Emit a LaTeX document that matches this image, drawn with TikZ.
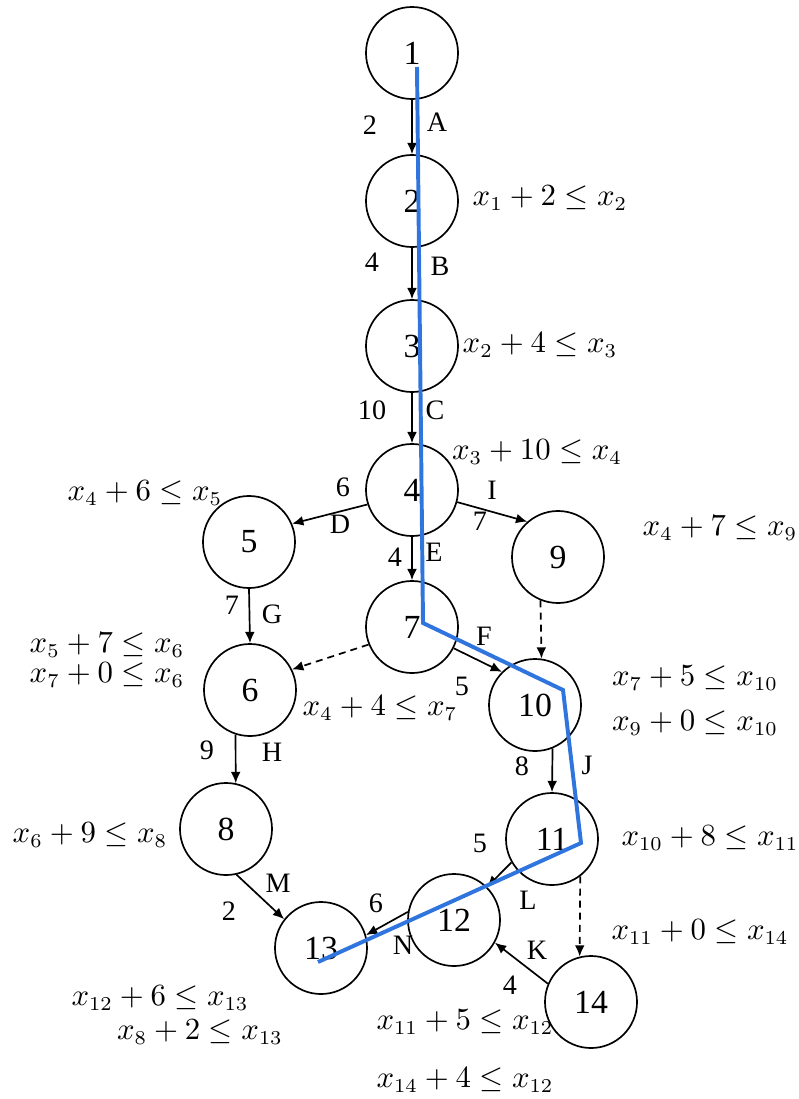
\documentclass[tikz,border=0pt]{standalone}
\usepackage{fontspec}
\setmainfont{Liberation Serif}
\usetikzlibrary{arrows.meta}

\begin{document}
\begin{tikzpicture}[x=0.0125cm, y=-0.0125cm,
    ndCircle/.style={circle, draw, line width=0.6pt, minimum size=1.15cm, inner sep=0pt, font=\large},
    ndArrow/.style={draw, line width=0.6pt, -{Latex[length=4pt, width=3.5pt]}},
    ndDummy/.style={ndArrow, dash pattern=on 2.5pt off 1.8pt},
    ndCritical/.style={draw={rgb,255:red,47;green,117;blue,221}, line width=1.4pt, line join=miter},
    ndLabel/.style={inner sep=0pt},
    ndCons/.style={inner sep=0pt, font=\fontsize{10.5}{12}\selectfont}]

    \useasboundingbox (0,0) rectangle (799,1099);

    % events
    \node[ndCircle] (ndNode1) at (412,53) {1};
    \node[ndCircle] (ndNode2) at (412,201) {2};
    \node[ndCircle] (ndNode3) at (412,346) {3};
    \node[ndCircle] (ndNode4) at (412,490) {4};
    \node[ndCircle] (ndNode5) at (249,542) {5};
    \node[ndCircle] (ndNode6) at (250,690) {6};
    \node[ndCircle] (ndNode7) at (412,627) {7};
    \node[ndCircle] (ndNode8) at (226,829) {8};
    \node[ndCircle] (ndNode9) at (558,557) {9};
    \node[ndCircle] (ndNode10) at (535,705) {10};
    \node[ndCircle] (ndNode11) at (552,839) {11};
    \node[ndCircle] (ndNode12) at (454,920) {12};
    \node[ndCircle] (ndNode13) at (321,948) {13};
    \node[ndCircle] (ndNode14) at (591,1002) {14};

    % activities
    \draw[ndArrow] (ndNode1.south) -- (ndNode2.north);
    \draw[ndArrow] (ndNode2.south) -- (ndNode3.north);
    \draw[ndArrow] (ndNode3.south) -- (ndNode4.north);
    \draw[ndArrow] (ndNode4.198) -- (ndNode5.23);
    \draw[ndArrow] (ndNode4.south) -- (ndNode7.north);
    \draw[ndArrow] (ndNode4.345) -- (ndNode9.131);
    \draw[ndArrow] (ndNode5.south) -- (ndNode6.north);
    \draw[ndDummy] (ndNode7.202) -- (ndNode6.26);
    \draw[ndArrow] (ndNode7.333) -- (ndNode10.135);
    \draw[ndDummy] (ndNode9.248) -- (ndNode10.82);
    \draw[ndArrow] (ndNode6.252) -- (ndNode8.78);
    \draw[ndArrow] (ndNode8.283) -- (ndNode13.142);
    \draw[ndArrow] (ndNode10.292) -- (ndNode11.north);
    \draw[ndArrow] (ndNode11.210) -- (ndNode12.45);
    \draw[ndDummy] (ndNode11.307) -- (ndNode14.104);
    \draw[ndArrow] (ndNode14.157) -- (ndNode12.331);
    \draw[ndArrow] (ndNode12.170) -- (ndNode13.16);

    % critical path
    \coordinate (cpStart) at (417,67);
    \coordinate (cpBend7) at (423,623);
    \coordinate (cpBend10) at (563,690);
    \coordinate (cpBend11) at (581,843);
    \coordinate (cpEnd) at (318,962);
    \draw[ndCritical] (cpStart) -- (cpBend7) -- (cpBend10) -- (cpBend11) -- (cpEnd);

    % durations and activity names
    \node[ndLabel] (ndDurA) at (370,125) {2};
    \node[ndLabel] (ndActA) at (437,122) {A};
    \node[ndLabel] (ndDurB) at (372,262) {4};
    \node[ndLabel] (ndActB) at (440,266) {B};
    \node[ndLabel] (ndDurC) at (372,410) {10};
    \node[ndLabel] (ndActC) at (435,410) {C};
    \node[ndLabel] (ndDurD) at (343,487) {6};
    \node[ndLabel] (ndActD) at (340,524) {D};
    \node[ndLabel] (ndDurE) at (395,557) {4};
    \node[ndLabel] (ndActE) at (434,552) {E};
    \node[ndLabel] (ndActI) at (492,490) {I};
    \node[ndLabel] (ndDurI) at (480,521) {7};
    \node[ndLabel] (ndDurG) at (232,605) {7};
    \node[ndLabel] (ndActG) at (272,614) {G};
    \node[ndLabel] (ndActF) at (484,636) {F};
    \node[ndLabel] (ndDurF) at (462,686) {5};
    \node[ndLabel] (ndDurH) at (207,750) {9};
    \node[ndLabel] (ndActH) at (272,752) {H};
    \node[ndLabel] (ndDurJ) at (522,766) {8};
    \node[ndLabel] (ndActJ) at (587,765) {J};
    \node[ndLabel] (ndActM) at (278,883) {M};
    \node[ndLabel] (ndDurM) at (229,911) {2};
    \node[ndLabel] (ndDurL) at (480,843) {5};
    \node[ndLabel] (ndActL) at (528,900) {L};
    \node[ndLabel] (ndDurN) at (376,903) {6};
    \node[ndLabel] (ndActN) at (403,945) {N};
    \node[ndLabel] (ndActK) at (537,950) {K};
    \node[ndLabel] (ndDurK) at (510,985) {4};

    % precedence constraints
    \node[ndCons] (ndCons2) at (550,198) {$x_1+2\le x_2$};
    \node[ndCons] (ndCons3) at (540,345) {$x_2+4\le x_3$};
    \node[ndCons] (ndCons4) at (537,452) {$x_3+10\le x_4$};
    \node[ndCons] (ndCons5) at (145,493) {$x_4+6\le x_5$};
    \node[ndCons] (ndCons9) at (720,528) {$x_4+7\le x_9$};
    \node[ndCons] (ndCons6a) at (107,645) {$x_5+7\le x_6$};
    \node[ndCons] (ndCons6b) at (107,675) {$x_7+0\le x_6$};
    \node[ndCons] (ndCons7) at (380,708) {$x_4+4\le x_7$};
    \node[ndCons] (ndCons10a) at (695,678) {$x_7+5\le x_{10}$};
    \node[ndCons] (ndCons10b) at (695,723) {$x_9+0\le x_{10}$};
    \node[ndCons] (ndCons8) at (90,835) {$x_6+9\le x_8$};
    \node[ndCons] (ndCons11) at (710,838) {$x_{10}+8\le x_{11}$};
    \node[ndCons] (ndCons14) at (700,932) {$x_{11}+0\le x_{14}$};
    \node[ndCons] (ndCons13a) at (160,998) {$x_{12}+6\le x_{13}$};
    \node[ndCons] (ndCons13b) at (200,1032) {$x_8+2\le x_{13}$};
    \node[ndCons] (ndCons12a) at (465,1022) {$x_{11}+5\le x_{12}$};
    \node[ndCons] (ndCons12b) at (465,1080) {$x_{14}+4\le x_{12}$};
\end{tikzpicture}
\end{document}
